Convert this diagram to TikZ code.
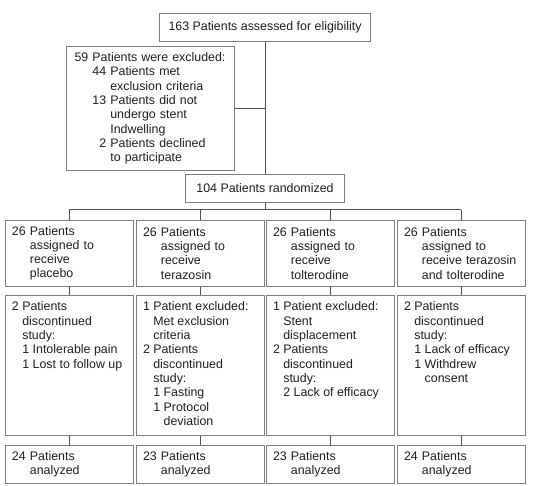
\documentclass[tikz,border=0pt]{standalone}
\usepackage{fontspec}
\setmainfont{Liberation Sans}
\usepackage{xcolor}
\definecolor{boxgray}{RGB}{125,125,125}
\definecolor{linkgray}{RGB}{80,80,80}
\definecolor{textgray}{RGB}{30,30,30}
\newcommand{\hang}[1]{\hphantom{#1}}
\newcommand{\topcell}[1]{\parbox[c][127pt][t]{114pt}{#1}}
\hyphenpenalty=10000

\begin{document}
\begin{tikzpicture}[
    x=1pt, y=-1pt,
    every node/.style={font=\fontsize{12.4pt}{14.3pt}\selectfont, text=textgray},
    box/.style={draw=boxgray, line width=1pt, inner sep=0pt, align=center},
    cell/.style={box, align=left, text width=114pt, inner xsep=7pt},
    tallcell/.style={box, inner xsep=7pt, inner ysep=6.5pt, anchor=north},
    link/.style={draw=linkgray, line width=1pt}
]
    \useasboundingbox (0,0) rectangle (533,485);

    \node[box, minimum width=211pt, minimum height=28pt, anchor=north] (elig) at (265,13) {163 Patients assessed for eligibility};
    \node[cell, text width=152pt, inner xsep=8pt, minimum height=124pt, anchor=north west] (excl) at (66,46)
        {59 Patients were excluded:\\
         \hang{59 }44 Patients met\\
         \hang{59 44 }exclusion criteria\\
         \hang{59 }13 Patients did not\\
         \hang{59 13 }undergo stent\\
         \hang{59 13 }Indwelling\\
         \hang{59 1}2 Patients declined\\
         \hang{59 13 }to participate};
    \node[box, minimum width=159pt, minimum height=28pt, anchor=north] (rand) at (265,174) {104 Patients randomized};
    \coordinate (fork) at (265,209.5);

    % assigned groups
    \node[cell, minimum height=65.5pt, anchor=north] (g1) at (69,220)
        {26 Patients\\ \hang{26 }assigned to\\ \hang{26 }receive\\ \hang{26 }placebo};
    \node[cell, minimum height=65.5pt, anchor=north] (g2) at (200,220)
        {26 Patients\\ \hang{26 }assigned to\\ \hang{26 }receive\\ \hang{26 }terazosin};
    \node[cell, minimum height=65.5pt, anchor=north] (g3) at (330,220)
        {26 Patients\\ \hang{26 }assigned to\\ \hang{26 }receive\\ \hang{26 }tolterodine};
    \node[cell, minimum height=65.5pt, anchor=north] (g4) at (461,220)
        {26 Patients\\ \hang{26 }assigned to\\ \hang{26 }receive terazosin\\ \hang{26 }and tolterodine};

    % dropouts
    \node[tallcell] (d1) at (69,295) {\topcell{2 Patients\\
        \hang{2 }discontinued\\ \hang{2 }study:\\
        \hang{2 }1 Intolerable pain\\ \hang{2 }1 Lost to follow up}};
    \node[tallcell] (d2) at (200,295) {\topcell{1 Patient excluded:\\
        \hang{1 }Met exclusion\\ \hang{1 }criteria\\
        2 Patients\\ \hang{2 }discontinued\\ \hang{2 }study:\\
        \hang{2 }1 Fasting\\ \hang{2 }1 Protocol\\ \hang{2 1 }deviation}};
    \node[tallcell] (d3) at (330,295) {\topcell{1 Patient excluded:\\
        \hang{1 }Stent\\ \hang{1 }displacement\\
        2 Patients\\ \hang{2 }discontinued\\ \hang{2 }study:\\
        \hang{2 }2 Lack of efficacy}};
    \node[tallcell] (d4) at (461,295) {\topcell{2 Patients\\
        \hang{2 }discontinued\\ \hang{2 }study:\\
        \hang{2 }1 Lack of efficacy\\ \hang{2 }1 Withdrew\\ \hang{2 1 }consent}};

    % analyzed
    \node[cell, minimum height=38.5pt, anchor=north] (a1) at (69,444.5) {24 Patients\\ \hang{24 }analyzed};
    \node[cell, minimum height=38.5pt, anchor=north] (a2) at (200,444.5) {23 Patients\\ \hang{23 }analyzed};
    \node[cell, minimum height=38.5pt, anchor=north] (a3) at (330,444.5) {23 Patients\\ \hang{23 }analyzed};
    \node[cell, minimum height=38.5pt, anchor=north] (a4) at (461,444.5) {24 Patients\\ \hang{24 }analyzed};

    \draw[link] (elig.south) -- (rand.north);
    \draw[link] (excl.east) -- (excl.east -| elig.south);
    \draw[link] (rand.south) -- (fork);
    \draw[link] (g1.north |- fork) -- (g4.north |- fork);
    \foreach \i in {1,...,4} {
        \draw[link] (g\i.north |- fork) -- (g\i.north);
        \draw[link] (g\i.south) -- (d\i.north);
        \draw[link] (d\i.south) -- (a\i.north);
    }
\end{tikzpicture}
\end{document}
